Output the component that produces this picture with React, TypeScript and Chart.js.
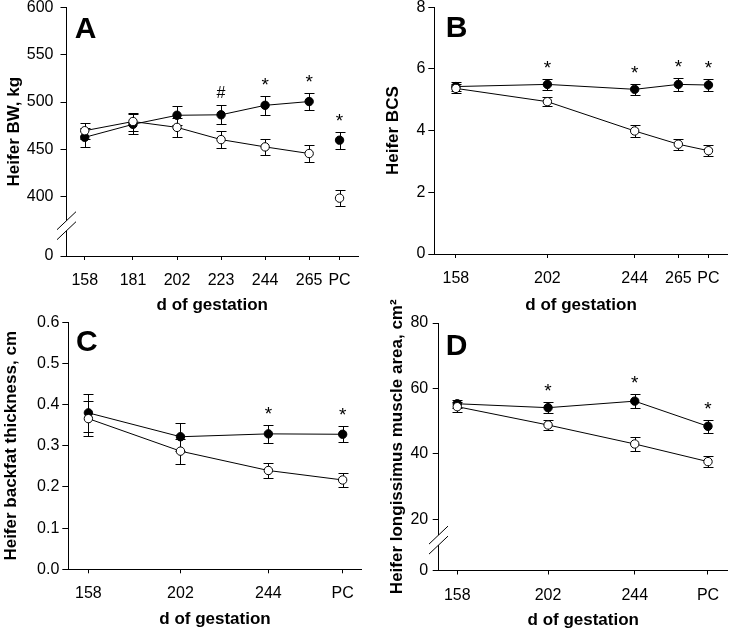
import React, { useEffect, useRef } from "react";
import { Chart, registerables } from "chart.js";

Chart.register(...registerables);

const FONT_FAMILY = "'Liberation Sans', Arial, Helvetica, sans-serif";
const PAGE_W = 733;
const PAGE_H = 630;
const X_TITLE = "d of gestation";

// ---------- Panel A: heifer BW ----------
const A_LABELS = ["158", "181", "202", "223", "244", "265", "PC"];
const A_DAYS = [158, 181, 202, 223, 244, 265, 279.5];
const A_FILLED = [462.7, 476.4, 486.0, 486.5, 496.5, 500.5, 459.7];
const A_FILLED_SE = [9.9, 10.6, 10.2, 10.0, 9.7, 9.3, 9.0];
const A_OPEN = [469.7, 479.4, 473.2, 460.3, 452.6, 445.6, 398.5];
const A_OPEN_SE = [8.5, 9.5, 9.9, 9.3, 8.8, 8.8, 8.1];
const A_MARKS = ["", "", "", "#", "*", "*", "*"];
const A_Y_TICKS = [400, 450, 500, 550, 600];

// ---------- Panel B: heifer BCS ----------
const B_LABELS = ["158", "202", "244", "265", "PC"];
const B_DAYS = [158, 202, 244, 265, 279.5];
const B_FILLED = [5.43, 5.5, 5.34, 5.5, 5.48];
const B_FILLED_SE = [0.15, 0.17, 0.18, 0.2, 0.18];
const B_OPEN = [5.37, 4.94, 3.99, 3.56, 3.35];
const B_OPEN_SE = [0.15, 0.14, 0.18, 0.18, 0.17];
const B_MARKS = ["", "*", "*", "*", "*"];
const B_Y_TICKS = [0, 2, 4, 6, 8];

// ---------- Panel C: backfat thickness ----------
const C_LABELS = ["158", "202", "244", "PC"];
const C_DAYS = [158, 202, 244, 279.5];
const C_FILLED = [0.38, 0.322, 0.329, 0.328];
const C_FILLED_SE = [0.047, 0.034, 0.021, 0.019];
const C_OPEN = [0.366, 0.287, 0.24, 0.217];
const C_OPEN_SE = [0.043, 0.03, 0.019, 0.018];
const C_MARKS = ["", "", "*", "*"];
const C_Y_TICKS = [0, 0.1, 0.2, 0.3, 0.4, 0.5, 0.6];

// ---------- Panel D: longissimus muscle area ----------
const D_LABELS = ["158", "202", "244", "PC"];
const D_DAYS = [158, 202, 244, 279.5];
const D_FILLED = [55.3, 54.1, 56.1, 48.4];
const D_FILLED_SE = [1.2, 1.7, 2.2, 1.9];
const D_OPEN = [54.4, 48.8, 43.0, 37.6];
const D_OPEN_SE = [1.5, 1.5, 2.0, 1.7];
const D_MARKS = ["", "*", "*", "*"];
const D_Y_TICKS = [20, 40, 60, 80];

type Area = { left: number; top: number; right: number; bottom: number };
type PanelSpec = {
  id: string;
  letter: string;
  letterDx: number;
  letterDy: number;
  yTitle: string;
  labels: string[];
  days: number[];
  filled: number[];
  filledSe: number[];
  open: number[];
  openSe: number[];
  marks: string[];
  yTicks: number[];
  yMin: number;
  yMax: number;
  zeroAtMin: boolean;
  yDecimals: number;
  breakAt: number | null;
  xMin: number;
  xMax: number;
  joinLast: boolean;
  area: Area;
  yBoxLeft: number;
  xBoxHeight: number;
  yTickPad: number;
  yTitlePad: number;
  xTitlePad: number;
};

const PANELS: PanelSpec[] = [
  {
    id: "A", letter: "A", letterDx: 8.3, letterDy: 31, yTitle: "Heifer BW, kg",
    labels: A_LABELS, days: A_DAYS, filled: A_FILLED, filledSe: A_FILLED_SE,
    open: A_OPEN, openSe: A_OPEN_SE, marks: A_MARKS, yTicks: A_Y_TICKS,
    yMin: 337.4, yMax: 600, zeroAtMin: true, yDecimals: 0, breakAt: 369.4,
    xMin: 149.3, xMax: 288.3, joinLast: false,
    area: { left: 66.5, top: 7.3, right: 358, bottom: 256 },
    yBoxLeft: 0, xBoxHeight: 62, yTickPad: 7, yTitlePad: 4.4, xTitlePad: 2,
  },
  {
    id: "B", letter: "B", letterDx: 11.4, letterDy: 30, yTitle: "Heifer BCS",
    labels: B_LABELS, days: B_DAYS, filled: B_FILLED, filledSe: B_FILLED_SE,
    open: B_OPEN, openSe: B_OPEN_SE, marks: B_MARKS, yTicks: B_Y_TICKS,
    yMin: 0, yMax: 8, zeroAtMin: false, yDecimals: 0, breakAt: null,
    xMin: 147.6, xMax: 288.8, joinLast: true,
    area: { left: 434.3, top: 7.3, right: 729, bottom: 254 },
    yBoxLeft: 366, xBoxHeight: 64, yTickPad: 3, yTitlePad: 17.2, xTitlePad: 2,
  },
  {
    id: "C", letter: "C", letterDx: 7.7, letterDy: 29, yTitle: "Heifer backfat thickness, cm",
    labels: C_LABELS, days: C_DAYS, filled: C_FILLED, filledSe: C_FILLED_SE,
    open: C_OPEN, openSe: C_OPEN_SE, marks: C_MARKS, yTicks: C_Y_TICKS,
    yMin: 0, yMax: 0.6, zeroAtMin: false, yDecimals: 1, breakAt: null,
    xMin: 148.4, xMax: 288.6, joinLast: true,
    area: { left: 68.3, top: 322.3, right: 361.7, bottom: 569.3 },
    yBoxLeft: 0, xBoxHeight: 62.5, yTickPad: 3, yTitlePad: 1.2, xTitlePad: 2,
  },
  {
    id: "D", letter: "D", letterDx: 7, letterDy: 32, yTitle: "Heifer longissimus muscle area, cm\u00B2",
    labels: D_LABELS, days: D_DAYS, filled: D_FILLED, filledSe: D_FILLED_SE,
    open: D_OPEN, openSe: D_OPEN_SE, marks: D_MARKS, yTicks: D_Y_TICKS,
    yMin: 4.3, yMax: 80, zeroAtMin: true, yDecimals: 0, breakAt: 13.6,
    xMin: 149, xMax: 289.1, joinLast: true,
    area: { left: 438.7, top: 323, right: 733, bottom: 570.5 },
    yBoxLeft: 366, xBoxHeight: 62.5, yTickPad: 4.5, yTitlePad: 21.1, xTitlePad: 2,
  },
];

function makeConfig(p: PanelSpec): any {
  const n = p.days.length;
  const toPts = (vals: number[]) => vals.map((v, i) => ({ x: p.days[i], y: v }));
  const segColor = (ctx: any) =>
    !p.joinLast && ctx.p1DataIndex === n - 1 ? "rgba(0,0,0,0)" : "#000";

  const base = {
    borderColor: "#000",
    borderWidth: 1,
    pointBorderColor: "#000",
    pointBorderWidth: 1,
    pointRadius: 4.2,
    pointHoverRadius: 4.2,
    fill: false,
    tension: 0,
    segment: { borderColor: segColor },
  };

  const datasets = [
    {
      ...base,
      label: "open",
      data: toPts(p.open),
      se: p.openSe,
      backgroundColor: "#fff",
      pointBackgroundColor: "#fff",
    },
    {
      ...base,
      label: "filled",
      data: toPts(p.filled),
      se: p.filledSe,
      backgroundColor: "#000",
      pointBackgroundColor: "#000",
    },
  ];

  const yTickList = p.zeroAtMin ? [p.yMin, ...p.yTicks] : p.yTicks;

  const errorBars = {
    id: "errorBars" + p.id,
    beforeDatasetsDraw(chart: any) {
      const { ctx } = chart;
      const xs = chart.scales.x;
      const ys = chart.scales.y;
      ctx.save();
      ctx.strokeStyle = "#000";
      ctx.lineWidth = 1;
      chart.data.datasets.forEach((ds: any) => {
        ds.data.forEach((pt: any, j: number) => {
          const se = ds.se[j];
          const x = Math.round(xs.getPixelForValue(pt.x)) + 0.5;
          const yT = Math.round(ys.getPixelForValue(pt.y + se)) + 0.5;
          const yB = Math.round(ys.getPixelForValue(pt.y - se)) + 0.5;
          ctx.beginPath();
          ctx.moveTo(x, yT);
          ctx.lineTo(x, yB);
          ctx.moveTo(x - 5, yT);
          ctx.lineTo(x + 5, yT);
          ctx.moveTo(x - 5, yB);
          ctx.lineTo(x + 5, yB);
          ctx.stroke();
        });
      });
      ctx.restore();
    },
  };

  const marks = {
    id: "marks" + p.id,
    afterDatasetsDraw(chart: any) {
      const { ctx } = chart;
      const xs = chart.scales.x;
      const ys = chart.scales.y;
      ctx.save();
      ctx.fillStyle = "#000";
      ctx.textAlign = "center";
      ctx.textBaseline = "alphabetic";
      p.marks.forEach((m, j) => {
        if (!m) return;
        const top = Math.max(p.filled[j] + p.filledSe[j], p.open[j] + p.openSe[j]);
        const x = xs.getPixelForValue(p.days[j]);
        const y = ys.getPixelForValue(top) - (m === "#" ? 7 : 5);
        ctx.font = (m === "#" ? "16px " : "19px ") + FONT_FAMILY;
        ctx.fillText(m, x, y);
      });
      ctx.restore();
    },
  };

  const decorations = {
    id: "decor" + p.id,
    afterDraw(chart: any) {
      const { ctx, chartArea } = chart;
      ctx.save();
      ctx.fillStyle = "#000";
      ctx.textAlign = "left";
      ctx.textBaseline = "alphabetic";
      ctx.font = "bold 30px " + FONT_FAMILY;
      ctx.fillText(p.letter, chartArea.left + p.letterDx, chartArea.top + p.letterDy);
      if (p.breakAt !== null) {
        const x = Math.round(chartArea.left - 0.5) + 0.5;
        const yc = chart.scales.y.getPixelForValue(p.breakAt);
        const gap = 5;
        ctx.fillStyle = "#fff";
        ctx.fillRect(x - 2, yc - gap, 4, gap * 2);
        ctx.strokeStyle = "#000";
        ctx.lineWidth = 1;
        for (const dy of [-gap, gap]) {
          ctx.beginPath();
          ctx.moveTo(x - 9.5, yc + dy + 9);
          ctx.lineTo(x + 9.5, yc + dy - 9);
          ctx.stroke();
        }
      }
      ctx.restore();
    },
  };

  const tickFont = { family: FONT_FAMILY, size: 16 };
  const titleFont = { family: FONT_FAMILY, size: 17, weight: "bold" };

  return {
    type: "line",
    data: { datasets },
    plugins: [errorBars, marks, decorations],
    options: {
      responsive: false,
      animation: false,
      devicePixelRatio: 1,
      events: [],
      layout: {
        padding: {
          left: p.yBoxLeft,
          top: p.area.top,
          right: PAGE_W - p.area.right,
          bottom: PAGE_H - (p.area.bottom + p.xBoxHeight),
        },
      },
      plugins: { legend: { display: false }, tooltip: { enabled: false } },
      scales: {
        x: {
          type: "linear",
          min: p.xMin,
          max: p.xMax,
          afterBuildTicks: (scale: any) => {
            scale.ticks = p.days.map((d) => ({ value: d }));
          },
          afterFit: (scale: any) => {
            scale.height = p.xBoxHeight;
            scale.paddingLeft = 0;
            scale.paddingRight = 0;
          },
          ticks: {
            font: tickFont,
            color: "#000",
            padding: 11,
            maxRotation: 0,
            autoSkip: false,
            callback: (value: any) => {
              const i = p.days.indexOf(Number(value));
              return i >= 0 ? p.labels[i] : "";
            },
          },
          grid: {
            display: true,
            drawOnChartArea: false,
            drawTicks: true,
            tickLength: 4,
            color: "#000",
            lineWidth: 1,
          },
          border: { display: true, color: "#000", width: 1 },
          title: {
            display: true,
            text: X_TITLE,
            color: "#000",
            font: titleFont,
            padding: { top: 0, bottom: p.xTitlePad },
          },
        },
        y: {
          type: "linear",
          min: p.yMin,
          max: p.yMax,
          afterBuildTicks: (scale: any) => {
            scale.ticks = yTickList.map((v) => ({ value: v }));
          },
          afterFit: (scale: any) => {
            scale.width = p.area.left - p.yBoxLeft;
            scale.paddingTop = 0;
            scale.paddingBottom = 0;
          },
          ticks: {
            font: tickFont,
            color: "#000",
            padding: p.yTickPad,
            autoSkip: false,
            callback: (value: any) => {
              const v = Number(value);
              if (p.zeroAtMin && Math.abs(v - p.yMin) < 1e-9) return "0";
              return v.toFixed(p.yDecimals);
            },
          },
          grid: {
            display: true,
            drawOnChartArea: false,
            drawTicks: true,
            tickLength: 6,
            color: "#000",
            lineWidth: 1,
          },
          border: { display: true, color: "#000", width: 1 },
          title: {
            display: true,
            text: p.yTitle,
            color: "#000",
            font: titleFont,
            padding: { top: p.yTitlePad, bottom: 0 },
          },
        },
      },
    },
  };
}

function PanelChart({ spec }: { spec: PanelSpec }) {
  const ref = useRef<HTMLCanvasElement | null>(null);
  useEffect(() => {
    if (!ref.current) return;
    const chart = new Chart(ref.current, makeConfig(spec));
    return () => chart.destroy();
  }, [spec]);
  return (
    <canvas
      ref={ref}
      width={PAGE_W}
      height={PAGE_H}
      style={{ position: "absolute", left: 0, top: 0, width: PAGE_W, height: PAGE_H }}
    />
  );
}

export default function App() {
  return (
    <div
      style={{
        position: "absolute",
        left: 0,
        top: 0,
        width: PAGE_W,
        height: PAGE_H,
        background: "#fff",
        overflow: "hidden",
      }}
    >
      {PANELS.map((p) => (
        <PanelChart key={p.id} spec={p} />
      ))}
    </div>
  );
}
